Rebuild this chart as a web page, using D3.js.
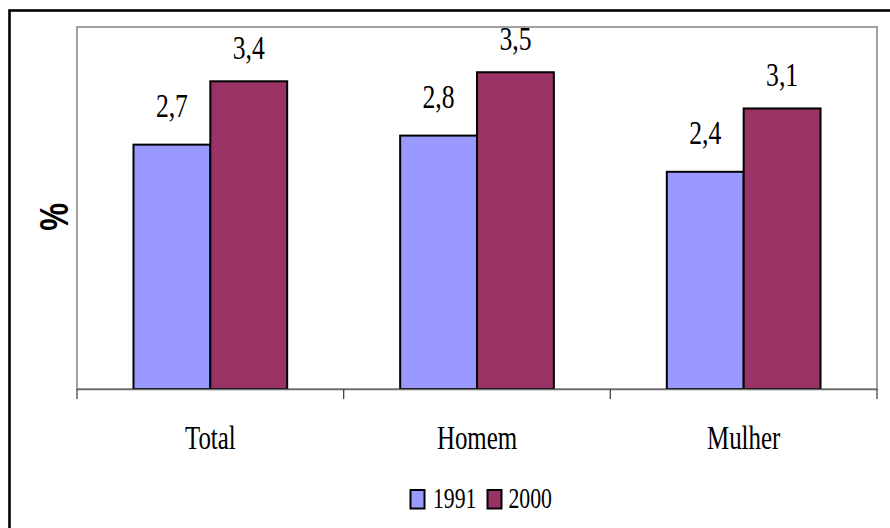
<!DOCTYPE html>
<html>
<head>
<meta charset="utf-8">
<script src="https://cdn.jsdelivr.net/npm/d3@7"></script>
<style>
  html, body { margin: 0; padding: 0; background: #fff; }
  svg { display: block; }
  svg text.serif { font-family: "Liberation Serif", "Times New Roman", serif; }
  svg text.axis-title { font-family: "Liberation Sans", Arial, sans-serif; font-weight: bold; }
</style>
</head>
<body>
<svg id="chart" width="890" height="528"></svg>
<script>
// Data
const categories = ["Total", "Homem", "Mulher"];
const seriesNames = ["1991", "2000"];
const values1991 = [2.7, 2.8, 2.4];
const values2000 = [3.4, 3.5, 3.1];
const seriesColors = ["#9999FF", "#993366"];
const yDomain = [0, 4];

const series = [values1991, values2000];
const fmt = v => d3.format(".1f")(v).replace(".", ",");

const svg = d3.select("#chart");
const W = 890, H = 528;

// Layout
const plot = { left: 77, right: 877, top: 27, bottom: 389 };
const squeeze = 0.755; // narrow serif lettering

// Outer chart frame
svg.append("rect")
  .attr("x", 9.5).attr("y", 10.5)
  .attr("width", W + 20).attr("height", H + 20)
  .attr("fill", "#fff")
  .attr("stroke", "#000").attr("stroke-width", 2.6);

// Scales
const x0 = d3.scaleBand().domain(categories)
  .range([plot.left, plot.right]).paddingInner(0).paddingOuter(0);
// two bars per group with a 150% gap width
const x1 = d3.scaleBand().domain(seriesNames)
  .range([0, x0.bandwidth()]).paddingOuter(0.75 * 0.98).paddingInner(0);
const y = d3.scaleLinear().domain(yDomain).range([plot.bottom, plot.top]);

// Plot area frame
svg.append("rect")
  .attr("x", plot.left).attr("y", plot.top)
  .attr("width", plot.right - plot.left).attr("height", plot.bottom - plot.top)
  .attr("fill", "#fff")
  .attr("stroke", "#8a8a8a").attr("stroke-width", 1.6);

// Bars
const groups = svg.append("g").selectAll("g")
  .data(categories)
  .join("g")
  .attr("transform", c => `translate(${x0(c)},0)`);

groups.selectAll("rect")
  .data((c, i) => seriesNames.map((s, k) => ({ s, k, v: series[k][i] })))
  .join("rect")
  .attr("x", d => x1(d.s))
  .attr("y", d => y(d.v))
  .attr("width", x1.bandwidth())
  .attr("height", d => y(0) - y(d.v))
  .attr("fill", d => seriesColors[d.k])
  .attr("stroke", "#000").attr("stroke-width", 2);

// Value labels
const labelLift = [28, 22];
groups.selectAll("text.val")
  .data((c, i) => seriesNames.map((s, k) => ({ s, k, v: series[k][i] })))
  .join("text")
  .attr("class", "val serif")
  .attr("transform", d => `translate(${x1(d.s) + x1.bandwidth() / 2},${y(d.v) - labelLift[d.k]}) scale(${squeeze},1)`)
  .attr("text-anchor", "middle")
  .attr("font-size", 34)
  .attr("fill", "#000")
  .text(d => fmt(d.v));

// X axis
const xAxis = d3.axisBottom(x0).tickSize(0).tickFormat("");
const ax = svg.append("g").attr("transform", `translate(0,${plot.bottom})`).call(xAxis);
ax.select(".domain").attr("stroke", "#6e6e6e").attr("stroke-width", 1.6);
// category boundary ticks
const bounds = categories.map(c => x0(c)).concat([x0(categories[categories.length - 1]) + x0.bandwidth()]);
ax.selectAll("line.bound")
  .data(bounds)
  .join("line")
  .attr("class", "bound")
  .attr("x1", d => d).attr("x2", d => d)
  .attr("y1", 0).attr("y2", 10)
  .attr("stroke", "#444").attr("stroke-width", 1.3);

// Category labels
svg.append("g").selectAll("text")
  .data(categories)
  .join("text")
  .attr("class", "serif")
  .attr("transform", c => `translate(${x0(c) + x0.bandwidth() / 2},449) scale(${squeeze},1)`)
  .attr("text-anchor", "middle")
  .attr("font-size", 33)
  .attr("fill", "#000")
  .text(c => c);

// Y axis title
svg.append("text")
  .attr("class", "axis-title")
  .attr("transform", "translate(68,217) rotate(-90) scale(0.78,1)")
  .attr("text-anchor", "middle")
  .attr("font-size", 40)
  .attr("fill", "#000")
  .text("%");

// Legend
const legendItems = [
  { name: seriesNames[0], color: seriesColors[0], sx: 410.5, tx: 433 },
  { name: seriesNames[1], color: seriesColors[1], sx: 487.5, tx: 508.5 }
];
const lg = svg.append("g");
lg.selectAll("rect")
  .data(legendItems)
  .join("rect")
  .attr("x", d => d.sx).attr("y", 490)
  .attr("width", 14).attr("height", 18.5)
  .attr("fill", d => d.color)
  .attr("stroke", "#000").attr("stroke-width", 2);
lg.selectAll("text")
  .data(legendItems)
  .join("text")
  .attr("class", "serif")
  .attr("transform", d => `translate(${d.tx},507.5) scale(0.75,1)`)
  .attr("font-size", 29)
  .attr("fill", "#000")
  .text(d => d.name);
</script>
</body>
</html>
